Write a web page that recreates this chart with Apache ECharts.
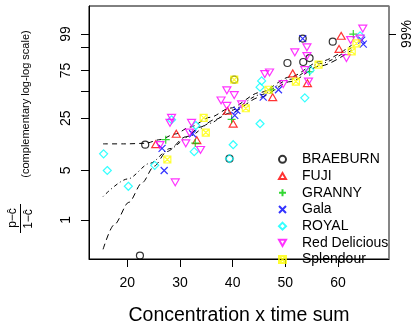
<!DOCTYPE html>
<html>
<head>
<meta charset="utf-8">
<script src="https://cdn.jsdelivr.net/npm/echarts@6/dist/echarts.min.js"></script>
<style>html,body{margin:0;padding:0;background:#fff}#c{width:415px;height:331px}</style>
</head>
<body>
<div id="c"></div>
<script>
// ---- data (x = concentration x time sum, y = percent, complementary log-log scale) ----
const categories = ['BRAEBURN','FUJI','GRANNY','Gala','ROYAL','Red Delicious','Splendour'];
const braeburn = [[22.4,0.31],[23.4,11.3],[39.4,7.3],[40.3,64],[50.4,83],[53.3,98.1],[53.4,84],[54.6,87.6],[59.0,97.2]];
const fuji = [[25.4,11.5],[29.3,15.8],[33.2,13.0],[39.0,30.7],[40.1,21.3],[47.6,43.7],[51.4,71.6],[54.2,59.8],[60.2,94.0],[60.6,98.7]];
const granny = [[27.3,13.2],[32.9,11.9],[39.8,24.2],[47.4,52],[54.6,73.5],[62.9,99.0]];
const gala = [[26.6,10.1],[27.0,5.0],[32.4,15.8],[40.4,27],[40.8,31],[45.8,43.7],[48.7,52],[53.3,98.1],[64.5,97.7],[64.8,96.3]];
const royal = [[15.5,8.5],[16.2,5.0],[20.2,3.0],[25.2,5.9],[28.4,23.9],[32.7,9.1],[33.0,20.2],[39.4,7.3],[40.1,11.3],[45.2,21.3],[45.2,55],[45.5,62.5],[53.7,43],[54.7,75.3],[64.2,98.7]];
const redDelicious = [[26.2,11.2],[28.1,21.9],[28.4,25.2],[29.1,3.4],[31.1,11.8],[31.8,16.4],[32.2,21.9],[33.9,9.6],[37.8,40.3],[38.9,35.0],[38.9,51.4],[40.3,45.9],[41.7,36.4],[46.1,70.8],[47.0,72.7],[49.6,58.6],[51.8,92.0],[53.7,75.3],[54.1,89.2],[54.1,94.9],[54.4,61.8],[61.6,87.6],[62.4,97.7],[64.2,98.1],[64.7,99.6]];
const splendour = [[27.6,7.1],[34.5,25.2],[34.9,16.4],[40.3,64],[42.5,32.9],[46.8,52],[52.0,61.8],[56.3,81.4],[62.6,92.6],[63.5,96.6]];
const curveA = [[15.4,11.6],[19.6,11.6],[23.4,11.8],[26.2,13.2],[29.1,15.7],[31.9,19.3],[35.7,25.6],[39.5,33.0],[45.2,48.9],[50.9,67.3],[56.6,84.4],[62.6,95.9]];
const curveB = [[15.4,2.15],[20.1,3.81],[24.3,6.29],[28.1,10.0],[31.9,14.8],[35.7,21.6],[39.5,30.9],[45.2,46.2],[50.9,64.5],[56.6,82.4],[62.6,94.8]];
const curveC = [[15.4,0.381],[17.5,0.852],[20.3,1.78],[22.8,3.36],[25.1,5.74],[27.5,9.13],[31.1,14.4],[33.8,19.3],[36.6,24.0],[39.5,28.9],[45.2,43.6],[50.9,61.6],[56.6,79.9],[62.6,93.4]];
const xTicks = [20,30,40,50,60];
const yTickPct = [1,5,25,50,75,95,99];
const yLabelPct = [1,5,25,75,99];
const rightTickPct = [99];

// ---- build ----
const cll = p => Math.log(-Math.log(1 - p/100));
const inv = v => 100*(1 - Math.exp(-Math.exp(v)));
const tr = arr => arr.map(d => [d[0], cll(d[1])]);
const colors = ['#000000','#FF0000','#00CD00','#0000FF','#00FFFF','#FF00FF','#FFFF00'];
const symbols = [
  'circle',
  'path://M1,0L2,1.732L0,1.732Z',
  'path://M1,0L1,2M0,1L2,1',
  'path://M0,0L2,2M0,2L2,0',
  'path://M1,0L2,1L1,2L0,1Z',
  'path://M0,0L2,0L1,1.732Z',
  'path://M0,0L2,0L2,2L0,2ZM0,0L2,2M0,2L2,0'
];
const sizes = [7,8,8,7,8,8,7];
const seriesData = [braeburn,fuji,granny,gala,royal,redDelicious,splendour];
const FONT = 'Liberation Sans, Arial, sans-serif';

const series = categories.map((name,i) => ({
  name, type:'scatter', data: tr(seriesData[i]),
  symbol: symbols[i], symbolSize: sizes[i], symbolKeepAspect: true,
  itemStyle: {color:'rgba(0,0,0,0)', borderColor: colors[i], borderWidth: 1.2},
  emphasis:{disabled:true}
}));
const lineDefs = [[curveA,[5,4]],[curveB,[1,3,4,3]],[curveC,[6,4]]];
lineDefs.forEach(([d,dash]) => series.push({
  type:'line', data: tr(d), symbol:'none', smooth:0.3, smoothMonotone:'x',
  lineStyle:{color:'#000', width:1, type: dash}, z:1, silent:true
}));

const yMin = -5.888, yMax = 2.451;
const fmtPct = v => String(Math.round(inv(v)));
const option = {
  animation:false,
  grid:{left:89,right:26,top:6,bottom:66,show:true,borderColor:'#000',borderWidth:1},
  textStyle:{fontFamily:FONT},
  xAxis:{type:'value',min:12.73,max:69.68,
    name:'Concentration x time sum',nameLocation:'middle',nameGap:47,
    nameTextStyle:{fontSize:19.5,color:'#000',fontFamily:FONT},
    axisLine:{show:true,onZero:false,lineStyle:{color:'#000'}},
    axisTick:{show:true,length:8,customValues:xTicks,lineStyle:{color:'#000'}},
    axisLabel:{customValues:xTicks,fontSize:14,color:'#000',margin:17},
    splitLine:{show:false}},
  yAxis:[{type:'value',min:yMin,max:yMax,position:'left',
    axisLine:{show:true,onZero:false,lineStyle:{color:'#000'}},
    axisTick:{show:true,length:8,customValues:yTickPct.map(cll),lineStyle:{color:'#000'}},
    axisLabel:{customValues:yLabelPct.map(cll),formatter:fmtPct,fontSize:14,color:'#000',rotate:90,margin:16},
    splitLine:{show:false}},
   {type:'value',min:yMin,max:yMax,position:'right',
    axisLine:{show:true,onZero:false,lineStyle:{color:'#888',width:1.5}},
    axisTick:{show:true,length:7,customValues:rightTickPct.map(cll),lineStyle:{color:'#000'}},
    axisLabel:{customValues:rightTickPct.map(cll),formatter:v=>fmtPct(v)+'%',fontSize:14,color:'#000',rotate:90,margin:11},
    splitLine:{show:false}}],
  legend:{orient:'vertical',left:273,top:146,itemWidth:7,itemHeight:7,itemGap:0,
    data:categories,
    textStyle:{fontSize:14,color:'#000',lineHeight:16.7,padding:[0,0,0,11],fontFamily:FONT}},
  graphic:[
    {type:'text',x:26,y:104,rotation:Math.PI/2,
      style:{text:'(complementary log-log scale)',fontSize:11,fill:'#000',align:'center',verticalAlign:'middle',fontFamily:FONT}},
    {type:'text',x:13,y:218,rotation:Math.PI/2,
      style:{text:'p\u2212\u0109',fontSize:12,fill:'#000',align:'center',verticalAlign:'middle',fontFamily:FONT}},
    {type:'line',shape:{x1:20.5,y1:204,x2:20.5,y2:233},style:{stroke:'#000',lineWidth:1}},
    {type:'text',x:29,y:219,rotation:Math.PI/2,
      style:{text:'1\u2212\u0109',fontSize:12,fill:'#000',align:'center',verticalAlign:'middle',fontFamily:FONT}}
  ],
  series
};
const chart = echarts.init(document.getElementById('c'),null,{renderer:'canvas'});
chart.setOption(option);
</script>
</body>
</html>
